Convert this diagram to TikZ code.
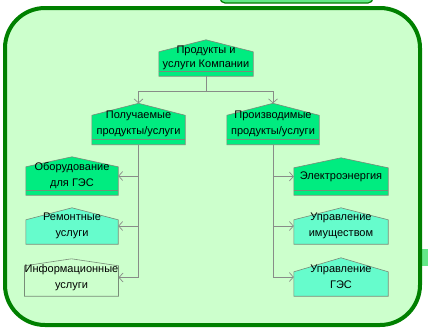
\documentclass[tikz,border=0pt]{standalone}
\usepackage{fontspec}
\setmainfont{Liberation Sans}
\usetikzlibrary{arrows.meta, positioning, backgrounds}
\definecolor{mypage}{RGB}{204,255,204}
\definecolor{myframe}{RGB}{0,128,0}
\definecolor{mybright}{RGB}{0,236,128}
\definecolor{myaqua}{RGB}{102,252,204}
\definecolor{mystrip}{RGB}{100,232,136}
\definecolor{myedge}{RGB}{120,140,120}
\definecolor{myconn}{RGB}{136,140,136}
\tikzset{
  hbox/.style={rectangle, inner sep=0pt, align=center,
    font=\fontsize{11}{16}\selectfont, text=black},
  conn/.style={draw=myconn, line width=0.7pt},
  arr/.style={conn, -{Straight Barb[length=4pt, width=9pt]}},
  house/.style={draw=myedge, line width=0.6pt}
}
\begin{document}
\begin{tikzpicture}[x=1pt, y=-1pt]
  \useasboundingbox (0,0) rectangle (428,333);

  % Boxes (text only, outlines below on the background layer)
  \node[hbox, minimum width=94pt, minimum height=36pt, font=\fontsize{11}{14.5}\selectfont] (top) at (206,58) {Продукты и\\услуги Компании};
  \node[hbox, minimum width=93pt, minimum height=41pt] (recv) at (138.5,124) {Получаемые\\продукты/услуги};
  \node[hbox, minimum width=92pt, minimum height=41pt] (prod) at (273,124) {Производимые\\продукты/услуги};
  \node[hbox, minimum width=92pt, minimum height=38pt] (equip) at (72,176) {Оборудование\\для ГЭС};
  \node[hbox, minimum width=92pt, minimum height=36pt] (repair) at (72,226) {Ремонтные\\услуги};
  \node[hbox, minimum width=91pt, minimum height=37pt] (info) at (71.5,277.5) {Информационные\\услуги};
  \node[hbox, minimum width=94pt, minimum height=37pt] (elec) at (341,176.5) {Электроэнергия};
  \node[hbox, minimum width=94pt, minimum height=36pt] (prop) at (341,226) {Управление\\имуществом};
  \node[hbox, minimum width=94pt, minimum height=38pt] (ges) at (341,277) {Управление\\ГЭС};

  \begin{scope}[on background layer]
    % Frame and cut-off neighbours
    \draw[draw=myframe, fill=mystrip, line width=1.2pt, rounded corners=5pt] (220,-10) rectangle (373,3);
    \fill[mystrip] (422,249) rectangle (440,266);
    \draw[draw=myframe, fill=mypage, line width=4pt, rounded corners=40pt] (5,8) rectangle (420,325);

    % House outlines
    \foreach \n/\r/\c/\l in {top/12/mybright/1, recv/12/mybright/1, prod/12/mybright/1,
        equip/10/mybright/1, repair/12/myaqua/0, info/7/mypage/0,
        elec/10/mybright/1, prop/12/myaqua/0, ges/14/myaqua/0} {
      \filldraw[house, fill=\c] (\n.south west) -- ([yshift=-\r pt]\n.north west) -- (\n.north)
        -- ([yshift=-\r pt]\n.north east) -- (\n.south east) -- cycle;
      \ifnum\l=1
        \draw[house] ([yshift=5pt]\n.south west) -- ([yshift=5pt]\n.south east);
      \fi
    }
  \end{scope}

  % Connectors
  \draw[arr] (top.south) -- ++(0,15) -| (recv.north);
  \draw[arr] (top.south) -- ++(0,15) -| (prod.north);
  \draw[arr] (recv.south) |- (equip.east);
  \draw[arr] (recv.south) |- (repair.east);
  \draw[arr] (recv.south) |- (info.east);
  \draw[arr] (prod.south) |- (elec.west);
  \draw[arr] (prod.south) |- (prop.west);
  \draw[arr] (prod.south) |- (ges.west);
\end{tikzpicture}
\end{document}
